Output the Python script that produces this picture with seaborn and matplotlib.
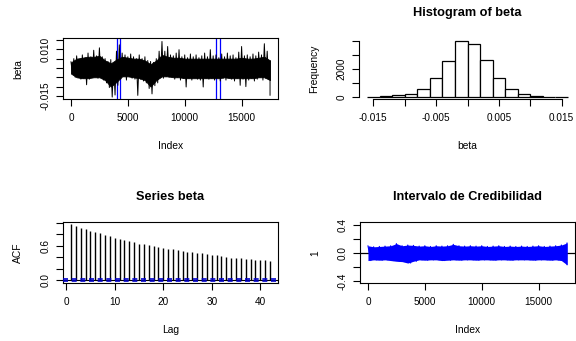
import matplotlib
matplotlib.use("Agg")
import matplotlib.pyplot as plt
import matplotlib.ticker as mticker
import numpy as np
import pandas as pd
import seaborn as sns

# ------------------------------------------------------------------ data
# trace of beta: spike envelope read every 250 iterations (units 1e-3)
trace_index = list(range(0, 17501, 250))
trace_high = [3.4, 5.0, 6.5, 4.5, 7.0, 5.5, 8.0, 6.0, 9.5, 6.5, 10.8, 6.0, 5.0, 3.5, 4.5, 2.5,
              9.0, 12.4, 8.0, 7.0, 6.0, 7.5, 6.0, 5.0, 7.0, 5.0, 6.0, 4.0, 3.5, 3.0, 5.0, 9.0,
              14.2, 9.0, 11.5, 7.0, 6.5, 8.0, 9.8, 6.0, 7.0, 5.5, 7.5, 6.0, 7.0, 5.5, 6.5, 8.0,
              6.0, 9.8, 6.5, 7.0, 5.5, 7.5, 6.0, 8.0, 6.5, 7.0, 5.5, 8.5, 11.5, 6.5, 7.0, 6.0,
              7.5, 6.5, 8.5, 7.0, 13.0, 9.0, 4.0]
trace_low = [-2.9, -5.0, -4.5, -6.0, -5.5, -9.0, -6.0, -5.0, -4.5, -5.5, -4.5, -6.5, -8.0, -10.5,
             -15.6, -14.5, -9.3, -6.0, -4.5, -6.5, -4.5, -5.5, -6.0, -14.7, -6.0, -7.0, -8.0,
             -11.0, -13.9, -9.5, -8.0, -5.0, -5.5, -4.5, -5.0, -4.5, -6.0, -5.0, -6.5, -5.5,
             -10.2, -5.5, -6.5, -5.0, -6.0, -6.5, -10.2, -5.5, -6.0, -5.5, -6.5, -5.0, -7.0,
             -5.5, -6.5, -5.0, -6.0, -7.0, -5.5, -9.3, -6.0, -10.0, -6.5, -5.5, -7.0, -6.0,
             -5.0, -6.5, -5.5, -6.0, -14.7]
# dense core of the trace, read every 500 iterations (units 1e-3)
core_index = list(range(0, 17501, 500))
core_high = [3.0, 5.0, 5.5, 6.0, 6.0, 6.5, 4.0, 2.5, 4.5, 6.0, 5.5, 5.0, 5.0, 4.0, 2.0, 4.0,
             7.0, 6.0, 5.5, 5.5, 5.0, 5.0, 5.0, 5.0, 5.0, 5.0, 5.0, 5.0, 5.0, 5.0, 5.5, 5.0,
             5.0, 5.5, 6.0, 4.0]
core_low = [-3.0, -5.0, -5.5, -5.5, -5.0, -5.0, -6.5, -10.0, -7.5, -4.5, -4.5, -5.0, -5.5,
            -6.5, -10.0, -6.5, -4.5, -4.5, -5.0, -5.0, -5.5, -5.5, -5.5, -5.5, -5.5, -5.5,
            -5.5, -5.0, -5.5, -5.5, -5.5, -5.5, -5.5, -5.0, -5.0, -6.5]
interval_marks = [4030, 4320, 12750, 13100]

# histogram of beta
hist_edges = [-0.016, -0.014, -0.012, -0.010, -0.008, -0.006, -0.004, -0.002, 0.000,
              0.002, 0.004, 0.006, 0.008, 0.010, 0.012, 0.014, 0.016]
hist_counts = [10, 70, 140, 210, 565, 1365, 2540, 4025, 3790, 2610, 1365, 565, 210, 70, 20, 5]

# autocorrelation
acf_lags = list(range(1, 43))
acf_values = [0.977, 0.948, 0.913, 0.884, 0.860, 0.843, 0.820, 0.785, 0.767, 0.738, 0.721,
              0.698, 0.680, 0.663, 0.634, 0.622, 0.605, 0.587, 0.576, 0.558, 0.547, 0.535,
              0.517, 0.506, 0.494, 0.494, 0.477, 0.465, 0.448, 0.436, 0.430, 0.419, 0.407,
              0.390, 0.390, 0.378, 0.360, 0.360, 0.355, 0.349, 0.343, 0.337]
acf_bound = 0.0151

# credibility interval band, read every 500 iterations
ci_index = list(range(0, 17501, 500))
ci_upper = [0.10, 0.085, 0.09, 0.095, 0.10, 0.13, 0.10, 0.11, 0.105, 0.095, 0.10, 0.09,
            0.10, 0.095, 0.10, 0.12, 0.10, 0.095, 0.10, 0.095, 0.10, 0.09, 0.095, 0.10,
            0.09, 0.095, 0.09, 0.095, 0.09, 0.095, 0.10, 0.09, 0.095, 0.10, 0.11, 0.14]
ci_lower = [-0.11, -0.10, -0.105, -0.10, -0.11, -0.12, -0.125, -0.145, -0.12, -0.10, -0.105,
            -0.10, -0.10, -0.11, -0.105, -0.10, -0.105, -0.10, -0.10, -0.105, -0.10, -0.10,
            -0.105, -0.10, -0.10, -0.105, -0.10, -0.10, -0.10, -0.105, -0.10, -0.10, -0.105,
            -0.10, -0.11, -0.17]

# tick labels
index_ticks = [0, 5000, 10000, 15000]
index_labels = ["0", "5000", "10000", "15000"]
beta_yticks = [-0.015, -0.010, -0.005, 0.0, 0.005, 0.010, 0.015]
beta_ylabels = ["-0.015", "", "", "", "", "0.010", ""]
hist_xticks = [-0.015, -0.010, -0.005, 0.0, 0.005, 0.010, 0.015]
hist_xlabels = ["-0.015", "", "-0.005", "", "0.005", "", "0.015"]
hist_yticks = [0, 1000, 2000, 3000, 4000]
hist_ylabels = ["0", "", "2000", "", ""]
acf_xticks = [0, 10, 20, 30, 40]
acf_xlabels = ["0", "10", "20", "30", "40"]
acf_yticks = [0.0, 0.2, 0.4, 0.6, 0.8, 1.0]
acf_ylabels = ["0.0", "", "", "0.6", "", ""]
ci_yticks = [-0.4, -0.2, 0.0, 0.2, 0.4]
ci_ylabels = ["-0.4", "", "0.0", "", "0.4"]

# ------------------------------------------------------------------ style
sns.set_theme(style="ticks")
plt.rcParams["font.family"] = ["Liberation Sans", "DejaVu Sans"]
plt.rcParams["text.color"] = "black"
plt.rcParams["axes.labelcolor"] = "black"
plt.rcParams["xtick.color"] = "black"
plt.rcParams["ytick.color"] = "black"
plt.rcParams["axes.edgecolor"] = "black"

W, H = 576, 341
fig = plt.figure(figsize=(W / 100, H / 100), dpi=100)
fig.patch.set_facecolor("white")

TICK_FS = 7.2
LAB_FS = 7.4
TITLE_FS = 9.2


def add_axes(left, top, right, bottom):
    return fig.add_axes([left / W, 1 - bottom / H, (right - left) / W, (bottom - top) / H])


def style_axes(ax, xt, xl, yt, yl, xlabel, ylabel, title=None, box=True):
    ax.set_facecolor("white")
    ax.xaxis.set_major_locator(mticker.FixedLocator(xt))
    ax.xaxis.set_major_formatter(mticker.FixedFormatter(xl))
    ax.yaxis.set_major_locator(mticker.FixedLocator(yt))
    ax.yaxis.set_major_formatter(mticker.FixedFormatter(yl))
    ax.tick_params(axis="both", which="major", direction="out", length=5, width=0.8,
                   labelsize=TICK_FS, top=False, right=False, bottom=True, left=True)
    ax.tick_params(axis="x", pad=5.0)
    ax.tick_params(axis="y", pad=3.8)
    for lab in ax.get_yticklabels():
        lab.set_rotation(90)
        lab.set_va("center")
        lab.set_ha("right")
    for sp in ax.spines.values():
        sp.set_color("black")
        sp.set_linewidth(0.8)
    if not box:
        ax.spines["top"].set_visible(False)
        ax.spines["right"].set_visible(False)
    bb = ax.get_position()
    wpx, hpx = bb.width * W, bb.height * H
    ax.set_xlabel(xlabel, fontsize=LAB_FS)
    ax.set_ylabel(ylabel, fontsize=LAB_FS)
    ax.xaxis.set_label_coords(0.5, -47 / hpx)
    ax.xaxis.label.set_va("center")
    ax.yaxis.set_label_coords(-45 / wpx, 0.5)
    ax.yaxis.label.set_va("center")
    ax.yaxis.label.set_ha("center")
    if title:
        ax.text(0.5, 1 + 25 / hpx, title, transform=ax.transAxes, ha="center", va="center",
                fontsize=TITLE_FS, fontweight="bold")


# ---------------------------------------------------------- panel 1: trace
ax1 = add_axes(63, 38.3, 278, 99.3)
for v in interval_marks:
    ax1.axvline(v, color="blue", lw=0.9, zorder=1)
ax1.fill_between(core_index, [c * 1e-3 for c in core_low], [c * 1e-3 for c in core_high],
                 color="black", lw=0.6, zorder=2)
zz_x, zz_y = [], []
for i, hi, lo in zip(trace_index, trace_high, trace_low):
    zz_x += [i, min(i + 125, 17500)]
    zz_y += [hi * 1e-3, lo * 1e-3]
df_trace = pd.DataFrame({"Index": zz_x, "beta": zz_y})
sns.lineplot(data=df_trace, x="Index", y="beta", sort=False, estimator=None,
             color="black", lw=0.7, ax=ax1, zorder=3)
ax1.set_xlim(-700, 18200)
ax1.set_ylim(-0.0168, 0.0159)
style_axes(ax1, index_ticks, index_labels, beta_yticks, beta_ylabels, "Index", "beta")

# ------------------------------------------------------- panel 2: histogram
ax2 = add_axes(359, 38.3, 576, 99.3)
centers = [(a + b) / 2 for a, b in zip(hist_edges[:-1], hist_edges[1:])]
df_hist = pd.DataFrame({"beta": centers, "count": hist_counts})
sns.histplot(data=df_hist, x="beta", weights="count", bins=hist_edges, stat="count",
             color="white", edgecolor="black", linewidth=0.9, alpha=1.0, ax=ax2)
ax2.set_xlim(-0.01728, 0.01728)
ax2.set_ylim(-161, 4186)
style_axes(ax2, hist_xticks, hist_xlabels, hist_yticks, hist_ylabels, "beta", "Frequency",
           title="Histogram of beta", box=False)
ax2.spines["left"].set_bounds(0, 4000)
ax2.spines["bottom"].set_bounds(-0.015, 0.015)

# ------------------------------------------------------------ panel 3: ACF
ax3 = add_axes(63, 221.7, 278, 283.3)
ax3.axhline(0, color="black", lw=0.8, zorder=1)
ax3.vlines(acf_lags, 0, acf_values, color="black", lw=1.0, zorder=2)
for s in (-1, 1):
    ax3.axhline(s * acf_bound, color="#0000cc", lw=1.2, dashes=(3, 2.2), zorder=3)
ax3.set_xlim(-0.64, 43.64)
ax3.set_ylim(-0.0547, 1.0167)
style_axes(ax3, acf_xticks, acf_xlabels, acf_yticks, acf_ylabels, "Lag", "ACF",
           title="Series beta")

# ------------------------------------------------ panel 4: credible interval
ax4 = add_axes(360, 222.3, 575, 283.3)
ax4.axhline(0, color="black", lw=0.9, zorder=1)
ax4.fill_between(ci_index, ci_lower, ci_upper, color="blue", lw=0, zorder=2)
cz_x, cz_y = [], []
for i, u, l in zip(ci_index, ci_upper, ci_lower):
    cz_x += [i, min(i + 250, 17500)]
    cz_y += [u, l]
df_ci = pd.DataFrame({"Index": cz_x, "v": cz_y})
sns.lineplot(data=df_ci, x="Index", y="v", sort=False, estimator=None,
             color="blue", lw=0.8, ax=ax4, zorder=3)
ax4.set_xlim(-700, 18200)
ax4.set_ylim(-0.432, 0.432)
style_axes(ax4, index_ticks, index_labels, ci_yticks, ci_ylabels, "Index", "1",
           title="Intervalo de Credibilidad")

fig.savefig("out.png", dpi=100, facecolor="white")
